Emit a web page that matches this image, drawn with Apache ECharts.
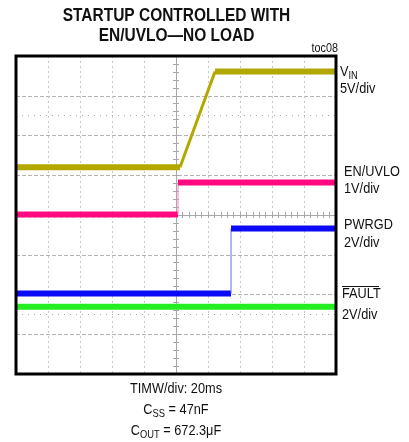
<!DOCTYPE html>
<html>
<head>
<meta charset="utf-8">
<script src="https://cdn.jsdelivr.net/npm/echarts@6/dist/echarts.min.js"></script>
<style>html,body{margin:0;padding:0;background:#fff;}#c{width:409px;height:442px;}</style>
</head>
<body>
<div id="c"></div>
<script>
// time in ms (20 ms/div, screen centre = 0), level in screen divisions (centre = 0)
const vinTime = [-100, 2.5, 24.4, 100];
const vinLevel = [1.2, 1.2, 3.61, 3.61];
const enTime = [-100, 1.25, 1.25, 100];
const enLevel = [0.01, 0.01, 0.82, 0.82];
const pgTime = [-100, 34.4, 34.4, 100];
const pgLevel = [-1.975, -1.975, -0.34, -0.34];
const faultTime = [-100, 100];
const faultLevel = [-2.31, -2.31];

const FONT = "'Liberation Sans',Arial,sans-serif";
const G = {left: 16, top: 56, width: 320, height: 318};
const SX = 0.85;

function pts(t, l, a, b) { const r = []; for (let i = a; i <= b; i++) r.push([t[i], l[i]]); return r; }

function line(data, color, width, z) {
  return {type: 'line', data: data, symbol: 'none', silent: true, animation: false, z: z || 5,
    lineStyle: {color: color, width: width, join: 'bevel'}, itemStyle: {color: color}};
}

function txt(x, y, text, opts) {
  opts = opts || {};
  const style = {text: text, font: (opts.font || '15px ' + FONT), fill: '#111',
    textAlign: opts.align || 'left', textVerticalAlign: 'middle'};
  if (opts.rich) style.rich = opts.rich;
  if (opts.lineHeight) style.lineHeight = opts.lineHeight;
  return {type: 'text', z: 100, silent: true, x: x, y: y, scaleX: opts.sx || SX, scaleY: 1, style: style};
}

const subRich = {m: {font: '15px ' + FONT, fill: '#111'}, s: {font: '11px ' + FONT, fill: '#111', padding: [8, 0, 0, 0]}};

const series = [
  line(pts(faultTime, faultLevel, 0, 1), '#22ee22', 6, 4),
  line(pts(pgTime, pgLevel, 0, 1), '#0a0af5', 6, 5),
  line(pts(pgTime, pgLevel, 1, 2), '#6a6af5', 1, 5),
  line(pts(pgTime, pgLevel, 2, 3), '#0a0af5', 6, 5),
  line(pts(enTime, enLevel, 0, 1), '#ff0a80', 6, 6),
  line(pts(enTime, enLevel, 1, 2), '#ff80c0', 1, 6),
  line(pts(enTime, enLevel, 2, 3), '#ff0a80', 6, 6),
  line(pts(vinTime, vinLevel, 0, 1), '#b3a800', 6, 7),
  line(pts(vinTime, vinLevel, 1, 2), '#b3a800', 3, 7),
  line(pts(vinTime, vinLevel, 2, 3), '#b3a800', 6, 7)
];
series[0].markLine = {symbol: 'none', silent: true, label: {show: false}, animation: false,
  lineStyle: {color: '#aaaaaa', type: [1, 5], width: 1},
  data: [{yAxis: 2.5}, {yAxis: -2.5}]};

const axisCommonX = {type: 'value', min: -100, max: 100, interval: 20, axisLabel: {show: false}};
const axisCommonY = {type: 'value', min: -4, max: 4, interval: 1, axisLabel: {show: false}};

const option = {
  animation: false,
  grid: {left: G.left, top: G.top, width: G.width, height: G.height, show: false},
  xAxis: [
    Object.assign({}, axisCommonX, {
      axisLine: {show: true, onZero: true, lineStyle: {color: '#a8a8a8', width: 1}},
      axisTick: {show: true, inside: true, length: 3, lineStyle: {color: '#a8a8a8'}},
      minorTick: {show: true, splitNumber: 5, length: 3, lineStyle: {color: '#a8a8a8'}},
      splitLine: {show: true, lineStyle: {color: '#c8c8c8', type: [2, 3], width: 1}}
    }),
    Object.assign({}, axisCommonX, {
      position: 'bottom',
      axisLine: {show: false, onZero: true},
      axisTick: {show: true, inside: false, length: 3, lineStyle: {color: '#a8a8a8'}},
      minorTick: {show: true, splitNumber: 5, length: 3, lineStyle: {color: '#a8a8a8'}},
      splitLine: {show: false}
    })
  ],
  yAxis: [
    Object.assign({}, axisCommonY, {
      axisLine: {show: true, onZero: true, lineStyle: {color: '#a8a8a8', width: 1}},
      axisTick: {show: true, inside: true, length: 3, lineStyle: {color: '#a8a8a8'}},
      minorTick: {show: true, splitNumber: 5, length: 3, lineStyle: {color: '#a8a8a8'}},
      splitLine: {show: true, lineStyle: {color: '#b4b4b4', type: [4, 2], width: 1}}
    }),
    Object.assign({}, axisCommonY, {
      position: 'left',
      axisLine: {show: false, onZero: true},
      axisTick: {show: true, inside: false, length: 3, lineStyle: {color: '#a8a8a8'}},
      minorTick: {show: true, splitNumber: 5, length: 3, lineStyle: {color: '#a8a8a8'}},
      splitLine: {show: false}
    })
  ],
  series: series,
  graphic: [
    {type: 'rect', z: 100, silent: true, shape: {x: G.left, y: G.top, width: G.width, height: G.height},
      style: {fill: 'none', stroke: '#000', lineWidth: 3}},
    txt(176.5, 26, 'STARTUP CONTROLLED WITH\nEN/UVLO\u2014NO LOAD',
      {font: 'bold 18px ' + FONT, align: 'center', lineHeight: 20, sx: 0.86}),
    txt(338, 49, 'toc08', {font: '12px ' + FONT, align: 'right', sx: 0.9}),
    txt(340, 72, '{m|V}{s|IN}', {rich: subRich}),
    txt(340, 89, '5V/div'),
    txt(344, 172, 'EN/UVLO'),
    txt(344, 189, '1V/div'),
    txt(344, 225, 'PWRGD'),
    txt(344, 243, '2V/div'),
    txt(342, 294, 'FAULT'),
    {type: 'line', z: 100, silent: true, shape: {x1: 342, y1: 286.5, x2: 379, y2: 286.5},
      style: {stroke: '#111', lineWidth: 1}},
    txt(342, 315, '2V/div'),
    txt(176, 389, 'TIMW/div: 20ms', {align: 'center'}),
    txt(176, 410, '{m|C}{s|SS}{m| = 47nF}', {align: 'center', rich: subRich}),
    txt(176, 431, '{m|C}{s|OUT}{m| = 672.3\u03bcF}', {align: 'center', rich: subRich})
  ]
};

const chart = echarts.init(document.getElementById('c'), null, {renderer: 'canvas'});
chart.setOption(option);
</script>
</body>
</html>
